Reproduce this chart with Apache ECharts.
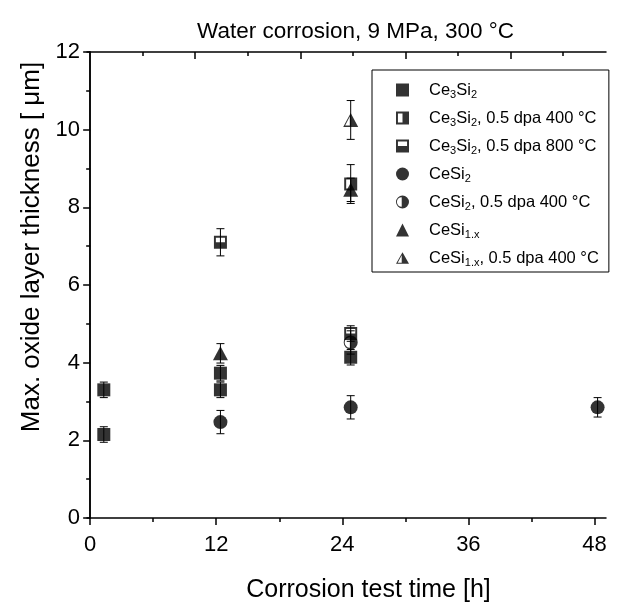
<!DOCTYPE html>
<html>
<head>
<meta charset="utf-8">
<script src="https://cdn.jsdelivr.net/npm/echarts@6/dist/echarts.min.js"></script>
<style>
  html, body { margin: 0; padding: 0; background: #fff; }
  #chart { width: 617px; height: 612px; }
</style>
</head>
<body>
<div id="chart"></div>
<script>
// [time h, thickness µm, error µm]
var ce3si2     = [[1.3, 2.15, 0.2], [1.3, 3.3, 0.2], [12.4, 3.3, 0.2], [12.4, 3.73, 0.2], [24.8, 4.14, 0.2]];
var ce3si2_400 = [[24.8, 8.6, 0.5]];
var ce3si2_800 = [[12.4, 7.1, 0.35], [24.8, 4.75, 0.2]];
var cesi2      = [[12.4, 2.47, 0.3], [24.8, 2.85, 0.3], [48.3, 2.85, 0.25]];
var cesi2_400  = [[24.8, 4.52, 0.3]];
var cesi1x     = [[12.4, 4.24, 0.25], [24.8, 8.45, 0.3]];
var cesi1x_400 = [[24.8, 10.25, 0.5]];

var xMajor = [0, 12, 24, 36, 48];
var xMinor = [6, 18, 30, 42];
var topMajor = [10, 20, 30, 40];
var topMinor = [5, 15, 25, 35, 45];

var names = [
  'Ce3Si2', 'Ce3Si2, 0.5 dpa 400 °C', 'Ce3Si2, 0.5 dpa 800 °C',
  'CeSi2', 'CeSi2, 0.5 dpa 400 °C', 'CeSi1.x', 'CeSi1.x, 0.5 dpa 400 °C'
];

// 半填充符号 (孔洞反向绕行)
var sqLeftOpen = 'path://M0,0 L10,0 L10,10 L0,10 Z M1.5,1.5 L1.5,8.5 L5,8.5 L5,1.5 Z';
var sqTopOpen  = 'path://M0,0 L10,0 L10,10 L0,10 Z M1.5,1.5 L1.5,5 L8.5,5 L8.5,1.5 Z';
var circLeftOpen = 'path://M5,0 A5,5 0 1,1 5,10 A5,5 0 1,1 5,0 Z M4.4,1.3 A3.7,3.7 0 0,0 4.4,8.7 Z';
var triLeftOpen = 'path://M5,0 L10,9 L0,9 Z M4.4,2.3 L1.3,8.1 L4.4,8.1 Z';

var richNames = {
  'Ce3Si2': '{g| }{n|Ce}{s|3}{n|Si}{s|2}',
  'Ce3Si2, 0.5 dpa 400 °C': '{g| }{n|Ce}{s|3}{n|Si}{s|2}{n|, 0.5 dpa 400 °C}',
  'Ce3Si2, 0.5 dpa 800 °C': '{g| }{n|Ce}{s|3}{n|Si}{s|2}{n|, 0.5 dpa 800 °C}',
  'CeSi2': '{g| }{n|CeSi}{s|2}',
  'CeSi2, 0.5 dpa 400 °C': '{g| }{n|CeSi}{s|2}{n|, 0.5 dpa 400 °C}',
  'CeSi1.x': '{g| }{n|CeSi}{s|1.x}',
  'CeSi1.x, 0.5 dpa 400 °C': '{g| }{n|CeSi}{s|1.x}{n|, 0.5 dpa 400 °C}'
};

var groups = [ce3si2, ce3si2_400, ce3si2_800, cesi2, cesi2_400, cesi1x, cesi1x_400];
var symbols = ['rect', sqLeftOpen, sqTopOpen, 'circle', circLeftOpen, 'triangle', triLeftOpen];
var sizes = [13, 13, 13, 14, 14, [15, 14], [15, 14]];

var errData = [];
groups.forEach(function (g) {
  g.forEach(function (d) { errData.push([d[0], d[1] - d[2], d[1] + d[2]]); });
});

var font = 'Liberation Sans';
var chart = echarts.init(document.getElementById('chart'));

var series = [{
  type: 'custom',
  name: 'err',
  z: 1,
  data: errData,
  renderItem: function (params, api) {
    var x = api.value(0);
    var lo = api.coord([x, api.value(1)]);
    var hi = api.coord([x, api.value(2)]);
    var w = 4;
    var st = { stroke: '#000', lineWidth: 1 };
    return {
      type: 'group',
      children: [
        { type: 'line', shape: { x1: lo[0], y1: lo[1], x2: hi[0], y2: hi[1] }, style: st },
        { type: 'line', shape: { x1: lo[0] - w, y1: lo[1], x2: lo[0] + w, y2: lo[1] }, style: st },
        { type: 'line', shape: { x1: hi[0] - w, y1: hi[1], x2: hi[0] + w, y2: hi[1] }, style: st }
      ]
    };
  }
}];
groups.forEach(function (g, i) {
  series.push({
    type: 'scatter',
    name: names[i],
    z: 3,
    symbol: symbols[i],
    symbolSize: sizes[i],
    itemStyle: { color: '#000' },
    data: g.map(function (d) { return [d[0], d[1]]; })
  });
});

var xBase = { type: 'value', min: -0.3, max: 49.1, splitLine: { show: false } };
function xAx(pos, ticks, len, inside, line, label, extra) {
  var o = Object.assign({}, xBase, {
    position: pos,
    axisLine: { show: line, onZero: false, lineStyle: { color: '#000', width: 1.5 } },
    axisTick: { show: true, inside: inside, length: len, customValues: ticks, lineStyle: { color: '#000', width: 1.5 } },
    axisLabel: label ? { show: true, customValues: ticks, color: '#000', fontSize: 22, fontFamily: font, margin: 16 } : { show: false }
  });
  return Object.assign(o, extra || {});
}

var option = {
  backgroundColor: '#fff',
  animation: false,
  title: {
    text: 'Water corrosion, 9 MPa, 300 °C',
    left: 192, top: 15,
    textStyle: { color: '#000', fontSize: 22.5, fontWeight: 'normal', fontFamily: font }
  },
  grid: { left: 87, right: 11, top: 52, bottom: 94 },
  legend: {
    data: names,
    orient: 'vertical',
    left: 372, top: 70,
    backgroundColor: '#fff',
    borderColor: '#000',
    borderWidth: 1,
    borderRadius: 0,
    padding: [10, 10, 4, 24],
    itemWidth: 13, itemHeight: 13,
    itemGap: 8,
    formatter: function (n) { return richNames[n]; },
    textStyle: {
      color: '#000',
      rich: {
        g: { width: 15, fontSize: 16, lineHeight: 20 },
        n: { fontSize: 16.5, fontFamily: font, color: '#000', lineHeight: 20 },
        s: { fontSize: 11, fontFamily: font, color: '#000', lineHeight: 20, padding: [9, 0, 0, 0] }
      }
    }
  },
  xAxis: [
    xAx('bottom', xMajor, 7, false, true, true, {
      name: 'Corrosion test time [h]', nameLocation: 'middle', nameGap: 60,
      nameTextStyle: { color: '#000', fontSize: 25, fontFamily: font, padding: [0, 0, 0, 44] }
    }),
    xAx('bottom', xMinor, 4, false, false, false),
    xAx('top', topMajor, 7, true, true, false),
    xAx('top', topMinor, 4, true, false, false)
  ],
  yAxis: [{
    type: 'value', min: 0, max: 12, interval: 2, position: 'left',
    name: 'Max. oxide layer thickness [ μm]', nameLocation: 'middle', nameGap: 42,
    nameTextStyle: { color: '#000', fontSize: 26, fontFamily: font, padding: [0, 0, 0, 76] },
    axisLine: { show: true, lineStyle: { color: '#000', width: 1.5 } },
    axisTick: { show: true, length: 7, lineStyle: { color: '#000', width: 1.5 } },
    minorTick: { show: true, splitNumber: 2, length: 4, lineStyle: { color: '#000', width: 1.5 } },
    axisLabel: { color: '#000', fontSize: 22, fontFamily: font, margin: 7 },
    splitLine: { show: false }
  }, {
    type: 'value', min: 0, max: 12, interval: 2, position: 'right',
    axisLine: { show: true, lineStyle: { color: '#000', width: 1.5 } },
    axisTick: { show: true, inside: true, length: 7, lineStyle: { color: '#000', width: 1.5 } },
    minorTick: { show: true, splitNumber: 2, length: 4, lineStyle: { color: '#000', width: 1.5 } },
    axisLabel: { show: false },
    splitLine: { show: false }
  }],
  series: series
};
chart.setOption(option);
</script>
</body>
</html>
